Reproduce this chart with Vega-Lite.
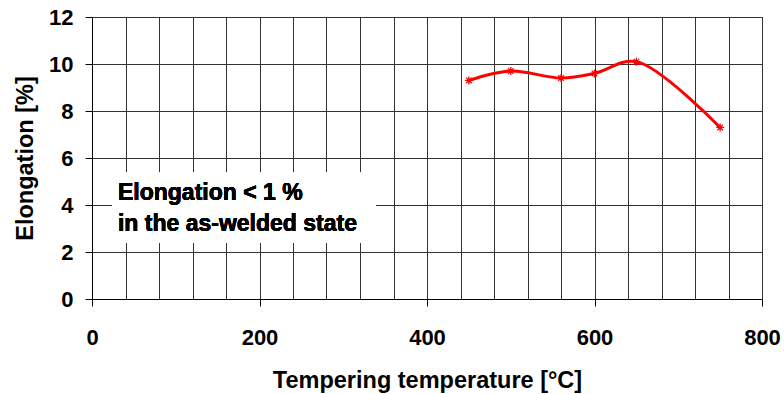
{
  "$schema": "https://vega.github.io/schema/vega-lite/v6.json",
  "width": 670,
  "height": 282,
  "autosize": {"type": "none"},
  "padding": {"left": 92, "top": 17, "right": 22, "bottom": 95},
  "background": "white",
  "config": {
    "view": {"stroke": "#000000", "strokeWidth": 1},
    "font": "Liberation Sans"
  },
  "data": {
    "values": [
      {"temperature": 450, "elongation": 9.3},
      {"temperature": 500, "elongation": 9.7},
      {"temperature": 560, "elongation": 9.4},
      {"temperature": 600, "elongation": 9.6},
      {"temperature": 650, "elongation": 10.1},
      {"temperature": 750, "elongation": 7.3}
    ]
  },
  "layer": [
    {
      "mark": {"type": "line", "interpolate": "catmull-rom", "color": "#ff0000", "strokeWidth": 3},
      "encoding": {
        "x": {
          "field": "temperature",
          "type": "quantitative",
          "scale": {"domain": [0, 800], "nice": false, "zero": false},
          "axis": {
            "values": [0, 40, 80, 120, 160, 200, 240, 280, 320, 360, 400, 440, 480, 520, 560, 600, 640, 680, 720, 760, 800],
            "tickCount": 40,
            "format": "d",
            "grid": true,
            "gridColor": "#333333",
            "gridWidth": 1,
            "gridOpacity": 1,
            "domainColor": "#000000",
            "domainWidth": 1,
            "tickColor": "#000000",
            "tickWidth": 1,
            "tickSize": 7,
            "tickOpacity": {"condition": {"test": "datum.value % 200 === 0", "value": 1}, "value": 0},
            "labelExpr": "datum.value % 200 === 0 ? datum.label : ''",
            "labelFont": "Liberation Sans",
            "labelFontWeight": "bold",
            "labelFontSize": 22,
            "labelColor": "#000000",
            "labelPadding": 21,
            "labelOverlap": false,
            "labelFlush": false,
            "title": "Tempering temperature [°C]",
            "titleFont": "Liberation Sans",
            "titleFontSize": 23.5,
            "titleFontWeight": "bold",
            "titleColor": "#000000",
            "titlePadding": 20
          }
        },
        "y": {
          "field": "elongation",
          "type": "quantitative",
          "scale": {"domain": [0, 12], "nice": false},
          "axis": {
            "values": [0, 2, 4, 6, 8, 10, 12],
            "tickCount": 20,
            "format": "d",
            "grid": true,
            "gridColor": "#333333",
            "gridWidth": 1,
            "gridOpacity": 1,
            "domainColor": "#000000",
            "domainWidth": 1,
            "tickColor": "#000000",
            "tickWidth": 1,
            "tickSize": 7,
            "labelFont": "Liberation Sans",
            "labelFontWeight": "bold",
            "labelFontSize": 22,
            "labelColor": "#000000",
            "labelPadding": 12,
            "labelOverlap": false,
            "labelFlush": false,
            "title": "Elongation [%]",
            "titleFont": "Liberation Sans",
            "titleFontSize": 23.5,
            "titleFontWeight": "bold",
            "titleColor": "#000000",
            "titlePadding": 11
          }
        }
      }
    },
    {
      "mark": {
        "type": "point",
        "shape": "M-1,0L1,0M0,-1L0,1M-0.7,-0.7L0.7,0.7M-0.7,0.7L0.7,-0.7",
        "size": 64,
        "filled": false,
        "stroke": "#ff0000",
        "strokeWidth": 1.3,
        "opacity": 1
      },
      "encoding": {
        "x": {"field": "temperature", "type": "quantitative"},
        "y": {"field": "elongation", "type": "quantitative"}
      }
    },
    {
      "mark": {"type": "rect", "fill": "white", "stroke": null},
      "encoding": {
        "x": {"datum": 24, "type": "quantitative"},
        "x2": {"datum": 339},
        "y": {"datum": 5.37, "type": "quantitative"},
        "y2": {"datum": 2.39}
      }
    },
    {
      "mark": {
        "type": "text",
        "text": ["Elongation < 1 %", "in the as-welded state"],
        "align": "left",
        "baseline": "alphabetic",
        "font": "Liberation Sans",
        "fontWeight": "bold",
        "fontSize": 23,
        "lineHeight": 31,
        "color": "#000000"
      },
      "encoding": {
        "x": {"datum": 31, "type": "quantitative"},
        "y": {"datum": 4.22, "type": "quantitative"}
      }
    }
  ]
}
